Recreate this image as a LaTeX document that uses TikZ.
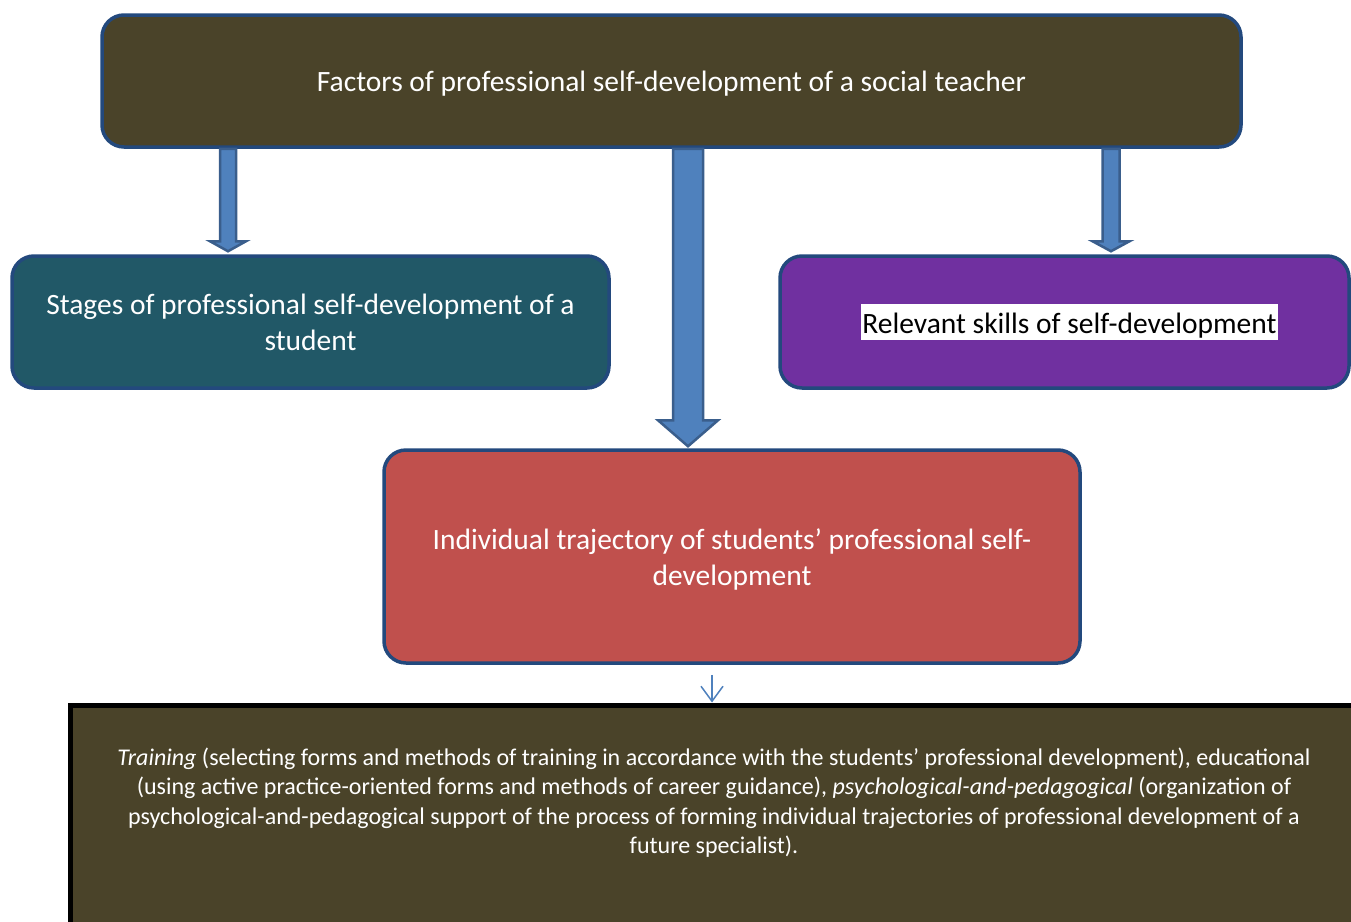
\documentclass[tikz,border=0pt]{standalone}
\usepackage{fontspec}
\setmainfont{Carlito}
\usetikzlibrary{arrows.meta,calc}
\definecolor{olivebox}{HTML}{4A4329}
\definecolor{tealbox}{HTML}{215867}
\definecolor{redbox}{HTML}{C0504D}
\definecolor{purplebox}{HTML}{7030A0}
\definecolor{boxline}{HTML}{23497D}
\definecolor{arrowfill}{HTML}{4F81BD}
\definecolor{arrowline}{HTML}{3A5E8C}
\tikzset{
  rbox/.style={draw=boxline, line width=3.5pt, rounded corners=22pt, text=white, align=center, inner sep=0pt},
  blockarrow/.style={fill=arrowfill, draw=arrowline, line width=2.5pt, line join=miter},
  thinarrow/.style={draw=arrowfill, line width=1.5pt, -{Straight Barb[length=15pt,width=22pt,line width=1.5pt]}},
}
\begin{document}
\begin{tikzpicture}[x=1pt,y=-1pt]
\useasboundingbox (0,0) rectangle (1351,921);
\clip (0,0) rectangle (1351,921);
\fill[white] (0,0) rectangle (1351,921);

\node[rbox, fill=olivebox, minimum width=1139pt, minimum height=132pt, font=\fontsize{29.5}{36}\selectfont]
  (top) at (671.5,81) {\raisebox{-3pt}[\height][\depth]{Factors of professional self-development of a social teacher}};

\node[rbox, fill=tealbox, minimum width=597pt, minimum height=132pt, font=\fontsize{29.5}{36}\selectfont]
  (stg) at (310.5,322) {Stages of professional self-development of a\\student};

\node[rbox, fill=purplebox, minimum width=569pt, minimum height=132pt, font=\fontsize{29.5}{36}\selectfont, text=black]
  (rel) at (1064.5,322) {\hspace*{10pt}{\setlength{\fboxsep}{0pt}\colorbox{white}{\rule[-7pt]{0pt}{36pt}\hspace{1pt}Relevant skills of self-development\hspace{1pt}}}};

\node[rbox, fill=redbox, minimum width=696pt, minimum height=213pt, font=\fontsize{29.5}{36}\selectfont]
  (ind) at (732,556.5) {\raisebox{-3.5pt}[\height][\depth]{\begin{tabular}{@{}c@{}}Individual trajectory of students’ professional self-\\development\end{tabular}}};

\node[draw=black, line width=5pt, fill=olivebox, minimum width=1290pt, minimum height=240pt, inner sep=0pt]
  (bot) at (715,825) {};
\node[text=white, align=center, font=\fontsize{24}{29.5}\selectfont, inner sep=0pt]
  (bottxt) at (714,802.5) {\textit{Training} (selecting forms and methods of training in accordance with the students’ professional development), educational\\
(using active practice-oriented forms and methods of career guidance), \textit{psychological-and-pedagogical} (organization of\\
psychological-and-pedagogical support of the process of forming individual trajectories of professional development of a\\
future specialist).};

% block arrows
\draw[blockarrow] let \p1=(top.south), \p2=(stg.north) in
  (228pt-8pt,\y1) -- (228pt-8pt,\y2+13pt) -- (228pt-18pt,\y2+13pt) -- (228pt,\y2+3pt)
  -- (228pt+18pt,\y2+13pt) -- (228pt+8pt,\y2+13pt) -- (228pt+8pt,\y1) -- cycle;
\draw[blockarrow] let \p1=(top.south), \p2=(ind.north) in
  (688pt-15pt,\y1) -- (688pt-15pt,\y2+28pt) -- (688pt-30pt,\y2+28pt) -- (688pt,\y2+2pt)
  -- (688pt+30pt,\y2+28pt) -- (688pt+15pt,\y2+28pt) -- (688pt+15pt,\y1) -- cycle;
\draw[blockarrow] let \p1=(top.south), \p2=(rel.north) in
  (1111pt-8.5pt,\y1) -- (1111pt-8.5pt,\y2+13pt) -- (1111pt-18.5pt,\y2+13pt) -- (1111pt,\y2+3pt)
  -- (1111pt+18.5pt,\y2+13pt) -- (1111pt+8.5pt,\y2+13pt) -- (1111pt+8.5pt,\y1) -- cycle;

\coordinate (tstart) at ([xshift=-20pt,yshift=-10pt]ind.south);
\draw[thinarrow] (tstart) -- (tstart |- bot.north);
\end{tikzpicture}
\end{document}
